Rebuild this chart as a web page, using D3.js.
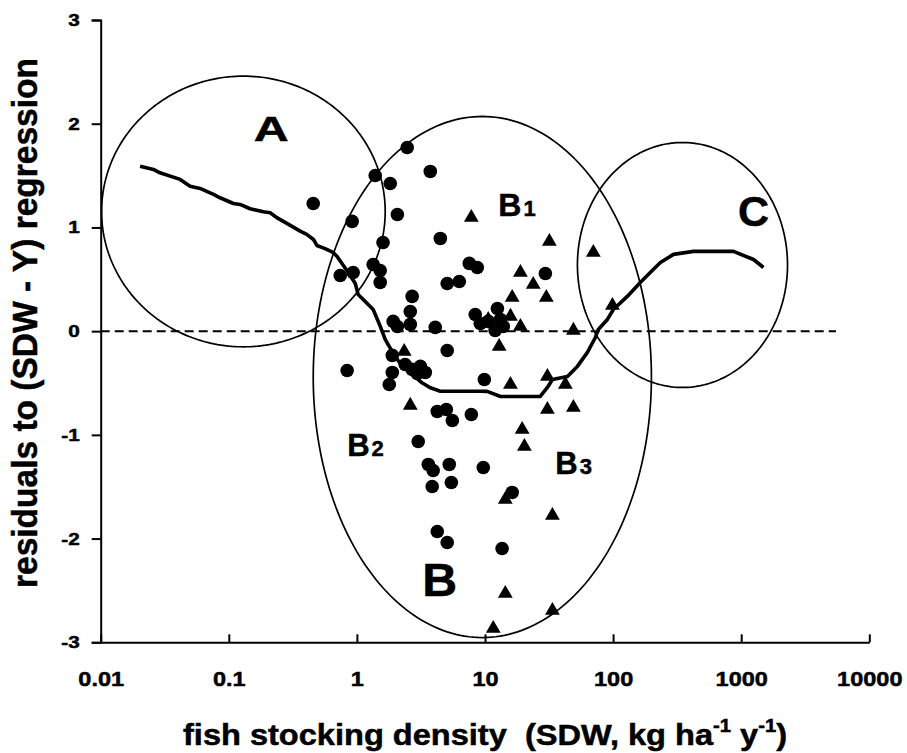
<!DOCTYPE html>
<html>
<head>
<meta charset="utf-8">
<script src="https://cdn.jsdelivr.net/npm/d3@7"></script>
<style>
  body { margin: 0; background: #fff; }
  svg { display: block; }
  text { font-family: "Liberation Sans", Arial, Helvetica, sans-serif; font-weight: bold; fill: #000; stroke: #000; stroke-width: 0.5px; }
</style>
</head>
<body>
<svg id="chart" width="907" height="753"></svg>
<script>
// Axis ticks
const xTickValues = [0.01, 0.1, 1, 10, 100, 1000, 10000];
const xTickLabels = ["0.01", "0.1", "1", "10", "100", "1000", "10000"];
const yTickValues = [-3, -2, -1, 0, 1, 2, 3];
const yTickLabels = ["-3", "-2", "-1", "0", "1", "2", "3"];

// Lakes shown as filled circles: stocking density (kg/ha/y) and residual
const circleX = [0.456, 0.918, 1.39, 1.82, 2.07, 2.47, 3.74, 4.48, 1.60, 0.741, 0.935, 1.34, 1.52, 1.52, 2.70, 2.61, 1.92, 2.61, 4.09, 5.07, 0.839, 1.89, 1.89, 1.79, 2.38, 2.70, 3.13, 3.42, 2.96, 4.24, 4.99, 5.56, 7.82, 3.01, 3.61, 3.94, 5.26, 3.87, 5.46, 9.70, 16.3, 4.24, 5.07, 13.6, 9.88, 7.54, 8.71, 5.07, 6.30, 29.6, 8.39, 12.5, 13.2, 10.6, 9.19, 12.0, 13.9, 2.07];
const circleY = [1.231, 1.058, 1.501, 1.424, 1.125, 1.771, 1.540, 0.894, 0.855, 0.537, 0.566, 0.643, 0.585, 0.470, 0.335, 0.190, 0.094, 0.065, 0.036, -0.186, -0.379, -0.234, -0.398, -0.514, -0.321, -0.369, -0.340, -0.398, -0.408, -0.774, -0.755, -0.861, -0.803, -1.064, -1.285, -1.343, -1.285, -1.498, -1.459, -1.314, -1.555, -1.932, -2.038, -2.095, -0.466, 0.653, 0.614, 0.460, 0.479, 0.556, 0.161, 0.219, 0.113, 0.094, 0.074, 0.007, 0.045, 0.045];

// Lakes shown as filled triangles
const triangleX = [7.82, 31.8, 70.1, 18.9, 23.8, 16.3, 30.1, 98.8, 49.0, 12.9, 2.34, 2.61, 15.8, 30.7, 42.4, 30.7, 49.0, 19.5, 20.3, 14.4, 33.6, 14.4, 33.6, 11.6, 10.6, 15.8, 18.9, 13.2];
const triangleY = [1.096, 0.865, 0.759, 0.566, 0.450, 0.325, 0.325, 0.248, 0.007, -0.148, -0.196, -0.716, -0.514, -0.437, -0.514, -0.755, -0.736, -0.948, -1.112, -1.623, -1.777, -2.529, -2.693, -2.867, 0.113, 0.142, 0.045, 0.065];

// Running trend of the residuals
const trendX = [0.0203, 0.0258, 0.029, 0.0417, 0.0499, 0.0597, 0.0759, 0.0855, 0.1086, 0.1225, 0.1466, 0.186, 0.2103, 0.237, 0.284, 0.3606, 0.406, 0.458, 0.487, 0.565, 0.656, 0.698, 0.859, 0.971, 1.023, 1.340, 1.52, 1.663, 1.876, 2.113, 2.61, 3.22, 3.74, 4.48, 9.19, 10.4, 13.2, 27.0, 30.7, 33.6, 44.0, 52.6, 63.0, 72.7, 76.7, 90.2, 100.5, 129, 163, 195, 234, 296, 424, 871, 1247, 1493];
const trendY = [1.591, 1.559, 1.527, 1.463, 1.398, 1.376, 1.318, 1.286, 1.231, 1.222, 1.180, 1.151, 1.142, 1.094, 1.039, 0.964, 0.933, 0.884, 0.826, 0.795, 0.756, 0.723, 0.563, 0.460, 0.354, 0.209, 0.048, -0.080, -0.193, -0.289, -0.401, -0.498, -0.546, -0.579, -0.579, -0.581, -0.630, -0.630, -0.543, -0.466, -0.437, -0.340, -0.205, -0.061, 0.016, 0.113, 0.209, 0.335, 0.470, 0.566, 0.662, 0.740, 0.769, 0.769, 0.691, 0.614];

// Zero reference line extent
const zeroLineX = [0.01, 5500];

// Zones: centre (x, residual) and half-extent (decades of x, residual units)
const zoneNames = ["A", "B", "C"];
const zoneCenterX = [0.130, 9.53, 348];
const zoneCenterY = [1.154, -0.442, 0.638];
const zoneHalfDecades = [1.107, 1.320, 0.820];
const zoneHalfY = [1.305, 2.512, 1.181];

// Zone labels anchored in data space
const labelMain = ["A", "B", "C", "B", "B", "B"];
const labelSub = ["", "", "", "1", "2", "3"];
const labelX = [0.214, 3.24, 1247, 12.7, 0.839, 35.4];
const labelY = [1.829, -2.558, 1.010, 1.106, -1.208, -1.382];

const svg = d3.select("#chart");
const x = d3.scaleLog().domain([0.01, 10000]).range([100.7, 869.3]);
const y = d3.scaleLinear().domain([-3, 3]).range([642.3, 20]);

const line = d3.line().x(d => x(d[0])).y(d => y(d[1]));

// Zone outlines
const zones = zoneNames.map((n, i) => {
  const pts = d3.range(0, 241).map(k => {
    const t = k / 240 * 2 * Math.PI;
    return [Math.pow(10, Math.log10(zoneCenterX[i]) + zoneHalfDecades[i] * Math.cos(t)),
            zoneCenterY[i] + zoneHalfY[i] * Math.sin(t)];
  });
  return pts;
});
svg.append("g").selectAll("path").data(zones).join("path")
  .attr("d", line)
  .attr("fill", "none")
  .attr("stroke", "#000")
  .attr("stroke-width", 1.7);

// Zero line
svg.append("path")
  .attr("d", line(zeroLineX.map(v => [v, 0])))
  .attr("fill", "none")
  .attr("stroke", "#000")
  .attr("stroke-width", 2)
  .attr("stroke-dasharray", "9,5");

// Points
svg.append("g").selectAll("circle").data(circleX.map((v, i) => [v, circleY[i]])).join("circle")
  .attr("cx", d => x(d[0]))
  .attr("cy", d => y(d[1]))
  .attr("r", 6.8)
  .attr("fill", "#000");

const tri = d3.symbol().type(d3.symbolTriangle).size(95);
svg.append("g").selectAll("path").data(triangleX.map((v, i) => [v, triangleY[i]])).join("path")
  .attr("d", tri)
  .attr("transform", d => `translate(${x(d[0])},${y(d[1])})`)
  .attr("fill", "#000");

// Trend line
svg.append("path")
  .attr("d", line(trendX.map((v, i) => [v, trendY[i]])))
  .attr("fill", "none")
  .attr("stroke", "#000")
  .attr("stroke-width", 3.6)
  .attr("stroke-linejoin", "round");

// Axes
const xAxis = d3.axisBottom(x)
  .tickValues(xTickValues)
  .tickFormat((d, i) => xTickLabels[i])
  .tickSizeInner(-8).tickSizeOuter(0).tickPadding(29);
const gx = svg.append("g").attr("transform", `translate(0,${y(-3)})`).call(xAxis);
gx.attr("font-family", null).attr("font-size", 21);
gx.selectAll("path, line").attr("stroke", "#000").attr("stroke-width", 2);
gx.selectAll("text").attr("transform", "scale(1.12,1)");

const yAxis = d3.axisLeft(y)
  .tickValues(yTickValues)
  .tickFormat((d, i) => yTickLabels[i])
  .tickSize(9).tickPadding(12);
const gy = svg.append("g").attr("transform", `translate(${x(0.01)},0)`).call(yAxis);
gy.attr("font-family", null).attr("font-size", 17);
gy.selectAll("path, line").attr("stroke", "#000").attr("stroke-width", 2);
gy.selectAll("text").attr("x", -21 / 1.22).attr("transform", "scale(1.22,1)");

// Zone labels
const labelSize = [35, 46, 43, 32, 31, 31];
const labelStretch = [1.38, 1.05, 1.0, 1.0, 1.0, 1.0];
const labelAnchor = ["middle", "start", "middle", "start", "start", "start"];
labelMain.forEach((m, i) => {
  const t = svg.append("text")
    .attr("transform", `translate(${x(labelX[i])},${y(labelY[i])}) scale(${labelStretch[i]},1)`)
    .attr("text-anchor", labelAnchor[i])
    .attr("font-size", labelSize[i])
    .text(m);
  if (labelSub[i]) {
    t.append("tspan").attr("font-size", 22).attr("dx", 2).text(labelSub[i]);
  }
});

// Axis titles
const xt = svg.append("text")
  .attr("x", 183).attr("y", 745)
  .attr("font-size", 29)
  .attr("textLength", 604)
  .attr("lengthAdjust", "spacingAndGlyphs")
  .style("white-space", "pre");
xt.append("tspan").text("fish stocking density  (SDW, kg ha");
xt.append("tspan").attr("font-size", 18).attr("dy", -13).text("-1");
xt.append("tspan").attr("dy", 13).text(" y");
xt.append("tspan").attr("font-size", 18).attr("dy", -13).text("-1");
xt.append("tspan").attr("dy", 13).text(")");

svg.append("text")
  .attr("transform", "translate(37,323) rotate(-90)")
  .attr("text-anchor", "middle")
  .attr("font-size", 35)
  .attr("textLength", 530)
  .attr("lengthAdjust", "spacingAndGlyphs")
  .text("residuals to (SDW - Y) regression");
</script>
</body>
</html>
